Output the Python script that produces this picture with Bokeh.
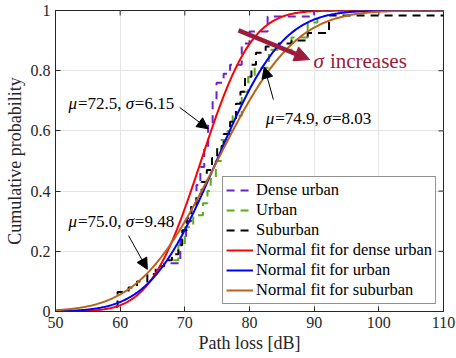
import math
import numpy as np
from bokeh.plotting import figure
from bokeh.models import (Range1d, FixedTicker, Arrow, NormalHead, Legend, LegendItem)
from bokeh.core.properties import value
from bokeh.embed import file_html
from bokeh.resources import INLINE

# ---------------- data ----------------
dense_x = [67.8, 69.3, 70.2, 71.0, 71.8, 72.4, 73.0, 73.6, 74.3, 74.9, 76.0, 77.0,
           78.8, 80.0, 82.8, 90.0, 110.0]
dense_y = [0.16, 0.24, 0.30, 0.36, 0.42, 0.48, 0.54, 0.62, 0.70, 0.76, 0.79, 0.82,
           0.89, 0.93, 0.98, 1.0, 1.0]

urban_x = [68.2, 69.0, 70.0, 71.3, 72.8, 73.5, 74.0, 74.8, 75.6, 76.6, 77.4, 78.8,
           79.8, 80.8, 83.0, 86.5, 89.0, 90.5, 110.0]
urban_y = [0.17, 0.22, 0.28, 0.32, 0.36, 0.40, 0.44, 0.50, 0.57, 0.60, 0.65, 0.73,
           0.78, 0.81, 0.87, 0.91, 0.96, 1.0, 1.0]

sub_x = [59.3, 59.6, 61.3, 62.6, 64.2, 65.5, 66.8, 68.0, 69.0, 69.6, 70.3, 71.0,
         71.8, 72.6, 73.4, 74.2, 75.0, 76.0, 77.0, 77.9, 78.6, 79.3, 80.3, 81.0,
         82.5, 84.5, 86.5, 89.0, 92.3, 110.0]
sub_y = [0.016, 0.065, 0.08, 0.10, 0.125, 0.15, 0.17, 0.19, 0.22, 0.27, 0.31, 0.35,
         0.39, 0.43, 0.47, 0.51, 0.55, 0.59, 0.63, 0.69, 0.73, 0.78, 0.82, 0.86,
         0.88, 0.89, 0.90, 0.925, 0.983, 0.983]

fit_names = ["Normal fit for dense urban", "Normal fit for urban", "Normal fit for suburban"]
fit_mu = [72.5, 74.9, 75.0]
fit_sigma = [6.15, 8.03, 9.48]

x_ticks = [50, 60, 70, 80, 90, 100, 110]
y_ticks = [0, 0.2, 0.4, 0.6, 0.8, 1]
y_tick_labels = ["0", "0.2", "0.4", "0.6", "0.8", "1"]

# ---------------- styling ----------------
FONT = "Liberation Serif"
TXT = "#262626"
C_DENSE = "#6a22d0"
C_URBAN = "#5aae14"
C_SUB = "#000000"
C_FIT = ["#ff0000", "#0000ff", "#b8621b"]
C_ARROW = "#9b1b3b"

p = figure(width=456, height=358, output_backend="svg", toolbar_location=None,
           x_range=Range1d(50, 110), y_range=Range1d(0, 1),
           min_border_left=55, min_border_right=13, min_border_top=10,
           min_border_bottom=47, background_fill_color="white",
           border_fill_color="white")
p.outline_line_color = TXT
p.outline_line_width = 1

for ax in (p.xaxis[0], p.yaxis[0]):
    ax.major_label_text_font = FONT
    ax.major_label_text_font_size = "16px"
    ax.major_label_text_color = TXT
    ax.axis_label_text_font = FONT
    ax.axis_label_text_font_size = "18px"
    ax.axis_label_text_font_style = "normal"
    ax.axis_label_text_color = TXT
    ax.major_tick_in = 5
    ax.major_tick_out = 0
    ax.minor_tick_in = 0
    ax.minor_tick_out = 0
    ax.axis_line_color = TXT
    ax.major_tick_line_color = TXT

p.xaxis[0].ticker = FixedTicker(ticks=x_ticks)
p.yaxis[0].ticker = FixedTicker(ticks=y_ticks)
p.yaxis[0].major_label_overrides = {t: l for t, l in zip(y_ticks, y_tick_labels)}
p.xaxis[0].axis_label = "Path loss [dB]"
p.yaxis[0].axis_label = "Cumulative probability"
p.xaxis[0].major_label_standoff = 5
p.xaxis[0].axis_label_standoff = 2
p.yaxis[0].major_label_standoff = 5
p.yaxis[0].axis_label_standoff = 3

p.grid.grid_line_color = "#e4e4e4"
p.grid.grid_line_width = 1
p.xgrid.ticker = FixedTicker(ticks=x_ticks)
p.ygrid.ticker = FixedTicker(ticks=y_ticks)

# mirrored inward ticks on the top and right edges of the box
tick_dy = 0.0166
tick_dx = 0.77
p.segment(x0=x_ticks, y0=[1] * len(x_ticks), x1=x_ticks, y1=[1 - tick_dy] * len(x_ticks),
          line_color=TXT, line_width=1)
p.segment(x0=[110] * len(y_ticks), y0=y_ticks, x1=[110 - tick_dx] * len(y_ticks), y1=y_ticks,
          line_color=TXT, line_width=1)

items = []
r1 = p.step(dense_x, dense_y, mode="after", line_color=C_DENSE, line_width=2, line_dash="8 6")
r2 = p.step(urban_x, urban_y, mode="after", line_color=C_URBAN, line_width=2, line_dash="8 6")
r3 = p.step(sub_x, sub_y, mode="after", line_color=C_SUB, line_width=2, line_dash="8 6")
items += [LegendItem(label="Dense urban", renderers=[r1]),
          LegendItem(label="Urban", renderers=[r2]),
          LegendItem(label="Suburban", renderers=[r3])]

xs = np.linspace(50, 110, 400)
for name, mu, sg, col in zip(fit_names, fit_mu, fit_sigma, C_FIT):
    ys = [0.5 * (1 + math.erf((x - mu) / (sg * math.sqrt(2)))) for x in xs]
    r = p.line(xs, ys, line_color=col, line_width=2)
    items.append(LegendItem(label=name, renderers=[r]))

legend = Legend(items=items, location="bottom_right", label_text_font=FONT,
                label_text_font_size="16.5px", label_text_color="#000000",
                label_height=18, glyph_height=18, glyph_width=27, label_standoff=3,
                spacing=0, padding=3, margin=7, border_line_color=TXT,
                border_line_width=1, background_fill_alpha=1)
p.add_layout(legend)

# ---------------- annotations ----------------
EM = {"0": .5, "1": .5, "2": .5, "3": .5, "4": .5, "5": .5, "6": .5, "7": .5,
      "8": .5, "9": .5, ".": .25, ",": .25, " ": .25, "=": .564, "μ": .56, "σ": .53,
      "i": .278, "n": .5, "c": .444, "r": .333, "e": .444, "a": .444, "s": .389}


def width(t, size):
    return sum(EM.get(ch, .5) for ch in t) * size


def rich_text(x, y, pieces, size, color):
    off = 0.0
    for t, italic in pieces:
        lead = len(t) - len(t.lstrip(" "))
        off += width(" " * lead, size)
        t = t.lstrip(" ")
        p.text(x=[x], y=[y], text=[t.rstrip(" ")], x_offset=off, text_font=value(FONT),
               text_font_size=f"{size}px", text_color=color,
               text_font_style="italic" if italic else "normal",
               text_baseline="middle", text_align="left")
        off += width(t, size)


def fit_label(i):
    return [("μ", True), (f"={fit_mu[i]:.1f}, ", False), ("σ", True),
            (f"={fit_sigma[i]:.2f}", False)]


rich_text(52.0, 0.690, fit_label(0), 17, "#000000")
rich_text(82.5, 0.640, fit_label(1), 17, "#000000")
rich_text(52.0, 0.300, fit_label(2), 17, "#000000")
rich_text(89.9, 0.832, [("σ", True), (" increases", False)], 21, C_ARROW)

for xs_, ys_, xe, ye in ((69.2, 0.678, 73.6, 0.607),
                         (83.7, 0.704, 82.3, 0.812),
                         (61.3, 0.252, 64.2, 0.140)):
    p.add_layout(Arrow(x_start=xs_, y_start=ys_, x_end=xe, y_end=ye,
                       line_color="#000000", line_width=1,
                       end=NormalHead(size=11, fill_color="#000000",
                                      line_color="#000000", line_width=1)))

p.add_layout(Arrow(x_start=78.3, y_start=0.934, x_end=89.3, y_end=0.837,
                   line_color=C_ARROW, line_width=4.5,
                   end=NormalHead(size=15, fill_color=C_ARROW, line_color=C_ARROW,
                                  line_width=1)))

open("out.html", "w").write(file_html(p, INLINE))
